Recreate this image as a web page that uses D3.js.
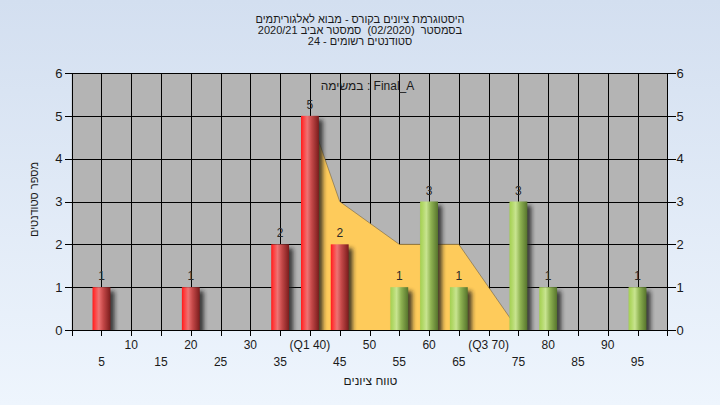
<!DOCTYPE html>
<html><head><meta charset="utf-8">
<script src="https://cdn.jsdelivr.net/npm/d3@7"></script>
<style>
body{margin:0;background:#fff;}
svg{display:block;font-family:"Liberation Sans",Arial,sans-serif;}
text{white-space:pre;}
</style></head>
<body>
<svg id="chart" width="720" height="405"></svg>
<script>
// ---- data (Hebrew strings in logical order, rendered right-to-left) ----
const titleLine1 = "היסטוגרמת ציונים בקורס - מבוא לאלגוריתמים";
const titleLine2 = "בסמסטר  (02/2020)  סמסטר אביב 2020/21";
const titleLine3 = "סטודנטים רשומים - 24";
const legendText = "במשימה : Final_A";
const xAxisTitle = "טווח ציונים";
const yAxisTitle = "מספר סטודנטים";

const binCenters = [5, 20, 35, 40, 45, 55, 60, 65, 75, 80, 95];
const counts     = [1, 1, 2, 5, 2, 1, 3, 1, 3, 1, 1];
const passThreshold = 50;

const xTickValues = [5,10,15,20,25,30,35,40,45,50,55,60,65,70,75,80,85,90,95];
const xTickLabels = {40: "(Q1 40)", 70: "(Q3 70)"};
const yTickValues = [0,1,2,3,4,5,6];

// inter-quartile frequency polygon
const iqrX = [40, 40, 45, 55, 65, 75];
const iqrY = [0, 5, 3, 2, 2, 0];

// ---- drawing ----
const svg = d3.select("#chart");
const W = 720, H = 405;
const plot = {left: 71.7, right: 667.3, top: 73, bottom: 330};

const x = d3.scaleLinear().domain([0, 100]).range([plot.left, plot.right]);
const y = d3.scaleLinear().domain([0, 6]).range([plot.bottom, plot.top]);

const defs = svg.append("defs");
const bg = defs.append("linearGradient").attr("id","bg").attr("x1",0).attr("y1",0).attr("x2",0).attr("y2",1);
bg.append("stop").attr("offset","0%").attr("stop-color","#d3dff0");
bg.append("stop").attr("offset","100%").attr("stop-color","#eef5fd");

function barGrad(id, stops){
  const g = defs.append("linearGradient").attr("id",id).attr("x1",0).attr("y1",0).attr("x2",1).attr("y2",0);
  stops.forEach(s => g.append("stop").attr("offset",s[0]).attr("stop-color",s[1]));
}
barGrad("gRed", [["0%","#ff1a1a"],["12%","#ff3a3a"],["35%","#ee7373"],["60%","#c44848"],["100%","#7a1c1c"]]);
barGrad("gGreen", [["0%","#a4d052"],["15%","#b2d868"],["35%","#c8e490"],["60%","#8fb352"],["100%","#56742c"]]);

const sh = defs.append("filter").attr("id","shadow").attr("x","-60%").attr("y","-20%").attr("width","220%").attr("height","140%");
sh.append("feGaussianBlur").attr("stdDeviation", 2.2);

defs.append("clipPath").attr("id","plotClip").append("rect")
  .attr("x", plot.left).attr("y", plot.top).attr("width", plot.right - plot.left).attr("height", plot.bottom - plot.top);

svg.append("rect").attr("width", W).attr("height", H).attr("fill", "url(#bg)");

// plot area
svg.append("rect").attr("x", plot.left).attr("y", plot.top)
  .attr("width", plot.right - plot.left).attr("height", plot.bottom - plot.top)
  .attr("fill", "#b4b4b4");

// grid
const grid = svg.append("g").attr("stroke", "#000").attr("stroke-width", 1).attr("shape-rendering","crispEdges");
grid.selectAll("line.h").data(yTickValues.filter(d => d > 0)).join("line")
  .attr("x1", plot.left).attr("x2", plot.right)
  .attr("y1", d => Math.round(y(d)) + 0.5).attr("y2", d => Math.round(y(d)) + 0.5);
grid.selectAll("line.v").data(xTickValues).join("line")
  .attr("y1", plot.top).attr("y2", plot.bottom)
  .attr("x1", d => Math.round(x(d)) + 0.5).attr("x2", d => Math.round(x(d)) + 0.5);

// IQR area
const areaPts = iqrX.map((d, i) => [d, iqrY[i]]);
svg.append("path").datum(areaPts)
  .attr("d", d3.line().x(d => x(d[0])).y(d => y(d[1])))
  .attr("fill", "#fecb5b");
svg.append("path").datum(areaPts.slice(1))
  .attr("d", d3.line().x(d => x(d[0])).y(d => y(d[1])))
  .attr("fill", "none").attr("stroke", "#6a5a3a").attr("stroke-opacity", 0.55).attr("stroke-width", 1);

// bars
const bars = binCenters.map((c, i) => ({c, v: counts[i]}));
const bw = 0.6 * (x(5) - x(0));
const gBars = svg.append("g").attr("clip-path", "url(#plotClip)");
gBars.selectAll("rect.sh").data(bars).join("rect")
  .attr("x", d => x(d.c) - bw/2 + 4).attr("y", d => y(d.v) + 4)
  .attr("width", bw).attr("height", d => y(0) - y(d.v))
  .attr("fill", "#1e1e1e").attr("opacity", 0.8).attr("filter", "url(#shadow)");
gBars.selectAll("rect.bar").data(bars).join("rect")
  .attr("x", d => x(d.c) - bw/2).attr("y", d => y(d.v))
  .attr("width", bw).attr("height", d => y(0) - y(d.v))
  .attr("fill", d => d.c < passThreshold ? "url(#gRed)" : "url(#gGreen)");

// value labels
svg.append("g").selectAll("text").data(bars).join("text")
  .attr("x", d => x(d.c)).attr("y", d => y(d.v) - 7)
  .attr("text-anchor", "middle").attr("font-size", 12).attr("fill", "#2a2a2a")
  .text(d => d.v);

// axes
const axisG = svg.append("g").attr("stroke", "#000").attr("shape-rendering","crispEdges");
axisG.append("line").attr("x1", Math.round(plot.left)+0.5).attr("x2", Math.round(plot.left)+0.5).attr("y1", plot.top).attr("y2", plot.bottom + 6);
axisG.append("line").attr("x1", Math.round(plot.right)+0.5).attr("x2", Math.round(plot.right)+0.5).attr("y1", plot.top).attr("y2", plot.bottom + 6);
axisG.append("line").attr("x1", plot.left).attr("x2", plot.right).attr("y1", plot.bottom + 0.5).attr("y2", plot.bottom + 0.5);

const yLeft = d3.axisLeft(y).tickValues(yTickValues).tickSize(8).tickPadding(2).tickFormat(d3.format("d"));
const gyl = svg.append("g").attr("transform", `translate(${Math.round(plot.left)+0.5},0)`).call(yLeft);
const yRight = d3.axisRight(y).tickValues(yTickValues).tickSize(8).tickPadding(1).tickFormat(d3.format("d"));
const gyr = svg.append("g").attr("transform", `translate(${Math.round(plot.right)+0.5},0)`).call(yRight);
[gyl, gyr].forEach(g => {
  g.select(".domain").remove();
  g.selectAll(".tick line").attr("stroke", "#000").attr("shape-rendering","crispEdges");
  g.selectAll(".tick text").attr("font-size", 13).attr("fill", "#1a1a1a").attr("font-family", "'Liberation Sans',Arial,sans-serif");
});

const xAx = d3.axisBottom(x).tickValues([0, ...xTickValues, 100]).tickSize(6).tickFormat("");
const gx = svg.append("g").attr("transform", `translate(0,${plot.bottom})`).call(xAx);
gx.select(".domain").remove();
gx.selectAll(".tick line").attr("stroke", "#000").attr("shape-rendering","crispEdges");

svg.append("g").selectAll("text").data(xTickValues).join("text")
  .attr("x", d => x(d))
  .attr("y", d => (d % 10 === 0) ? 349 : 366)
  .attr("text-anchor", "middle").attr("font-size", 12).attr("fill", "#1a1a1a")
  .text(d => xTickLabels[d] !== undefined ? xTickLabels[d] : d);

// titles
const tg = svg.append("g").attr("text-anchor", "middle").attr("font-size", 11).attr("fill", "#1a1a1a").attr("direction","rtl");
tg.append("text").attr("x", 360).attr("y", 22.5).text(titleLine1);
tg.append("text").attr("x", 360).attr("y", 33.5).text(titleLine2);
tg.append("text").attr("x", 360).attr("y", 44.5).text(titleLine3);

svg.append("text").attr("x", (plot.left + plot.right) / 2 - 2).attr("y", 90)
  .attr("text-anchor", "middle").attr("font-size", 12).attr("fill", "#1a1a1a").attr("direction","ltr")
  .text(legendText);

svg.append("text").attr("x", (plot.left + plot.right) / 2 + 1).attr("y", 385)
  .attr("text-anchor", "middle").attr("font-size", 12).attr("fill", "#1a1a1a").attr("direction","rtl")
  .text(xAxisTitle);

svg.append("text").attr("transform", `translate(38,${(plot.top + plot.bottom) / 2 - 2}) rotate(-90)`)
  .attr("text-anchor", "middle").attr("font-size", 11).attr("fill", "#1a1a1a").attr("direction","rtl")
  .text(yAxisTitle);
</script>
</body></html>
